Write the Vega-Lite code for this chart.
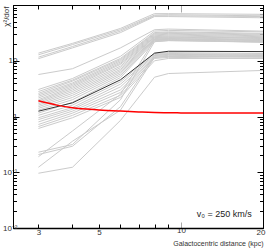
{
 "$schema": "https://vega.github.io/schema/vega-lite/v6.json",
 "width": 250, "height": 223,
 "autosize": {"type": "none"},
 "padding": {"left": 13, "top": 5, "right": 3, "bottom": 21},
 "background": "white",
 "config": {
  "view": {"stroke": "#000", "strokeWidth": 1},
  "font": "Liberation Sans",
  "axis": {"domainColor": "#000", "grid": false, "labelFont": "Liberation Sans Narrow, Liberation Sans", "labelFontSize": 8, "labelColor": "#333", "titleFont": "Liberation Sans Narrow, Liberation Sans", "titleFontWeight": "normal", "titleColor": "#333", "tickColor": "#000", "labelOverlap": false, "labelFlush": false}
 },
 "datasets": {
  "lines": [
   {"id":"a1","g":"gray","x":3,"y":13.7},{"id":"a1","g":"gray","x":4,"y":20.5},{"id":"a1","g":"gray","x":6,"y":38},{"id":"a1","g":"gray","x":8,"y":70},{"id":"a1","g":"gray","x":9,"y":70},{"id":"a1","g":"gray","x":20,"y":68},
   {"id":"a2","g":"gray","x":3,"y":12.8},{"id":"a2","g":"gray","x":4,"y":19.5},{"id":"a2","g":"gray","x":6,"y":36},{"id":"a2","g":"gray","x":8,"y":66},{"id":"a2","g":"gray","x":9,"y":67},{"id":"a2","g":"gray","x":20,"y":64},
   {"id":"a3","g":"gray","x":3,"y":11.6},{"id":"a3","g":"gray","x":4,"y":18},{"id":"a3","g":"gray","x":6,"y":34},{"id":"a3","g":"gray","x":8,"y":64},{"id":"a3","g":"gray","x":9,"y":64},{"id":"a3","g":"gray","x":20,"y":62},
   {"id":"a4","g":"gray","x":3,"y":10.9},{"id":"a4","g":"gray","x":4,"y":17},{"id":"a4","g":"gray","x":6,"y":32},{"id":"a4","g":"gray","x":8,"y":62},{"id":"a4","g":"gray","x":9,"y":62},{"id":"a4","g":"gray","x":20,"y":59},
   {"id":"b1","g":"gray","x":3,"y":5.66},{"id":"b1","g":"gray","x":4,"y":7.2},{"id":"b1","g":"gray","x":6,"y":17},{"id":"b1","g":"gray","x":8,"y":36},{"id":"b1","g":"gray","x":9,"y":37},{"id":"b1","g":"gray","x":20,"y":34},
   {"id":"c1","g":"gray","x":3,"y":3.05},{"id":"c1","g":"gray","x":4,"y":4.8},{"id":"c1","g":"gray","x":6,"y":12},{"id":"c1","g":"gray","x":8,"y":34},{"id":"c1","g":"gray","x":9,"y":35},{"id":"c1","g":"gray","x":20,"y":33},
   {"id":"c2","g":"gray","x":3,"y":2.8},{"id":"c2","g":"gray","x":4,"y":4.5},{"id":"c2","g":"gray","x":6,"y":11},{"id":"c2","g":"gray","x":8,"y":32},{"id":"c2","g":"gray","x":9,"y":33},{"id":"c2","g":"gray","x":20,"y":31},
   {"id":"c3","g":"gray","x":3,"y":2.6},{"id":"c3","g":"gray","x":4,"y":4.3},{"id":"c3","g":"gray","x":6,"y":10.5},{"id":"c3","g":"gray","x":8,"y":31},{"id":"c3","g":"gray","x":9,"y":32},{"id":"c3","g":"gray","x":20,"y":30},
   {"id":"c4","g":"gray","x":3,"y":2.45},{"id":"c4","g":"gray","x":4,"y":4.0},{"id":"c4","g":"gray","x":6,"y":10},{"id":"c4","g":"gray","x":8,"y":30},{"id":"c4","g":"gray","x":9,"y":31},{"id":"c4","g":"gray","x":20,"y":29},
   {"id":"c5","g":"gray","x":3,"y":2.3},{"id":"c5","g":"gray","x":4,"y":3.8},{"id":"c5","g":"gray","x":6,"y":9.5},{"id":"c5","g":"gray","x":8,"y":29},{"id":"c5","g":"gray","x":9,"y":30},{"id":"c5","g":"gray","x":20,"y":28},
   {"id":"c6","g":"gray","x":3,"y":2.15},{"id":"c6","g":"gray","x":4,"y":3.6},{"id":"c6","g":"gray","x":6,"y":9},{"id":"c6","g":"gray","x":8,"y":28},{"id":"c6","g":"gray","x":9,"y":29},{"id":"c6","g":"gray","x":20,"y":27},
   {"id":"c7","g":"gray","x":3,"y":2.0},{"id":"c7","g":"gray","x":4,"y":3.4},{"id":"c7","g":"gray","x":6,"y":8.6},{"id":"c7","g":"gray","x":8,"y":27},{"id":"c7","g":"gray","x":9,"y":28},{"id":"c7","g":"gray","x":20,"y":26},
   {"id":"c8","g":"gray","x":3,"y":1.9},{"id":"c8","g":"gray","x":4,"y":3.2},{"id":"c8","g":"gray","x":6,"y":8},{"id":"c8","g":"gray","x":8,"y":26.5},{"id":"c8","g":"gray","x":9,"y":27},{"id":"c8","g":"gray","x":20,"y":25.5},
   {"id":"c9","g":"gray","x":3,"y":1.8},{"id":"c9","g":"gray","x":4,"y":3.0},{"id":"c9","g":"gray","x":6,"y":7.5},{"id":"c9","g":"gray","x":8,"y":26},{"id":"c9","g":"gray","x":9,"y":26.5},{"id":"c9","g":"gray","x":20,"y":25},
   {"id":"c10","g":"gray","x":3,"y":1.7},{"id":"c10","g":"gray","x":4,"y":2.8},{"id":"c10","g":"gray","x":6,"y":7},{"id":"c10","g":"gray","x":8,"y":25},{"id":"c10","g":"gray","x":9,"y":26},{"id":"c10","g":"gray","x":20,"y":24},
   {"id":"c11","g":"gray","x":3,"y":1.6},{"id":"c11","g":"gray","x":4,"y":2.6},{"id":"c11","g":"gray","x":6,"y":6.6},{"id":"c11","g":"gray","x":8,"y":24.5},{"id":"c11","g":"gray","x":9,"y":25},{"id":"c11","g":"gray","x":20,"y":23.5},
   {"id":"c12","g":"gray","x":3,"y":1.5},{"id":"c12","g":"gray","x":4,"y":2.4},{"id":"c12","g":"gray","x":6,"y":6.2},{"id":"c12","g":"gray","x":8,"y":24},{"id":"c12","g":"gray","x":9,"y":24.5},{"id":"c12","g":"gray","x":20,"y":23},
   {"id":"c13","g":"gray","x":3,"y":1.4},{"id":"c13","g":"gray","x":4,"y":2.2},{"id":"c13","g":"gray","x":6,"y":5.8},{"id":"c13","g":"gray","x":8,"y":23.6},{"id":"c13","g":"gray","x":9,"y":24},{"id":"c13","g":"gray","x":20,"y":22},
   {"id":"c14","g":"gray","x":3,"y":1.3},{"id":"c14","g":"gray","x":4,"y":2.0},{"id":"c14","g":"gray","x":6,"y":5.4},{"id":"c14","g":"gray","x":8,"y":23},{"id":"c14","g":"gray","x":9,"y":23.5},{"id":"c14","g":"gray","x":20,"y":21.5},
   {"id":"c15","g":"gray","x":3,"y":1.15},{"id":"c15","g":"gray","x":4,"y":1.8},{"id":"c15","g":"gray","x":6,"y":5.0},{"id":"c15","g":"gray","x":8,"y":22},{"id":"c15","g":"gray","x":9,"y":23},{"id":"c15","g":"gray","x":20,"y":21.5},
   {"id":"c16","g":"gray","x":3,"y":1.05},{"id":"c16","g":"gray","x":4,"y":1.6},{"id":"c16","g":"gray","x":6,"y":4.2},{"id":"c16","g":"gray","x":8,"y":13.5},{"id":"c16","g":"gray","x":9,"y":14},{"id":"c16","g":"gray","x":20,"y":13.5},
   {"id":"c17","g":"gray","x":3,"y":0.95},{"id":"c17","g":"gray","x":4,"y":1.45},{"id":"c17","g":"gray","x":6,"y":3.8},{"id":"c17","g":"gray","x":8,"y":13},{"id":"c17","g":"gray","x":9,"y":13.5},{"id":"c17","g":"gray","x":20,"y":13},
   {"id":"c18","g":"gray","x":3,"y":0.88},{"id":"c18","g":"gray","x":4,"y":1.35},{"id":"c18","g":"gray","x":6,"y":3.4},{"id":"c18","g":"gray","x":8,"y":12.5},{"id":"c18","g":"gray","x":9,"y":13},{"id":"c18","g":"gray","x":20,"y":12.5},
   {"id":"c19","g":"gray","x":3,"y":0.8},{"id":"c19","g":"gray","x":4,"y":1.25},{"id":"c19","g":"gray","x":6,"y":3.0},{"id":"c19","g":"gray","x":8,"y":12},{"id":"c19","g":"gray","x":9,"y":12.5},{"id":"c19","g":"gray","x":20,"y":12},
   {"id":"c20","g":"gray","x":3,"y":0.72},{"id":"c20","g":"gray","x":4,"y":1.15},{"id":"c20","g":"gray","x":6,"y":2.7},{"id":"c20","g":"gray","x":8,"y":11.5},{"id":"c20","g":"gray","x":9,"y":12},{"id":"c20","g":"gray","x":20,"y":11.5},
   {"id":"c21","g":"gray","x":3,"y":0.66},{"id":"c21","g":"gray","x":4,"y":1.05},{"id":"c21","g":"gray","x":6,"y":2.4},{"id":"c21","g":"gray","x":8,"y":11},{"id":"c21","g":"gray","x":9,"y":11.5},{"id":"c21","g":"gray","x":20,"y":11},
   {"id":"c22","g":"gray","x":3,"y":0.61},{"id":"c22","g":"gray","x":4,"y":0.95},{"id":"c22","g":"gray","x":6,"y":2.2},{"id":"c22","g":"gray","x":8,"y":10},{"id":"c22","g":"gray","x":9,"y":11},{"id":"c22","g":"gray","x":20,"y":11},
   {"id":"d1","g":"gray","x":3,"y":0.229},{"id":"d1","g":"gray","x":4,"y":0.315},{"id":"d1","g":"gray","x":6,"y":2.0},{"id":"d1","g":"gray","x":8,"y":22},{"id":"d1","g":"gray","x":9,"y":23},{"id":"d1","g":"gray","x":20,"y":22},
   {"id":"d2","g":"gray","x":3,"y":0.208},{"id":"d2","g":"gray","x":4,"y":0.293},{"id":"d2","g":"gray","x":6,"y":1.5},{"id":"d2","g":"gray","x":8,"y":12.5},{"id":"d2","g":"gray","x":9,"y":13},{"id":"d2","g":"gray","x":20,"y":12.5},
   {"id":"d3","g":"gray","x":3,"y":0.19},{"id":"d3","g":"gray","x":4,"y":0.55},{"id":"d3","g":"gray","x":6,"y":2.5},{"id":"d3","g":"gray","x":8,"y":24},{"id":"d3","g":"gray","x":9,"y":25},{"id":"d3","g":"gray","x":20,"y":23},
   {"id":"d4","g":"gray","x":3,"y":0.123},{"id":"d4","g":"gray","x":4,"y":0.36},{"id":"d4","g":"gray","x":6,"y":1.3},{"id":"d4","g":"gray","x":8,"y":11.5},{"id":"d4","g":"gray","x":9,"y":12},{"id":"d4","g":"gray","x":20,"y":12},
   {"id":"l1","g":"gray","x":3,"y":0.096},{"id":"l1","g":"gray","x":4,"y":0.123},{"id":"l1","g":"gray","x":6,"y":0.85},{"id":"l1","g":"gray","x":8,"y":5.07},{"id":"l1","g":"gray","x":9,"y":5.9},{"id":"l1","g":"gray","x":20,"y":6.7},
   {"id":"k","g":"black","x":3,"y":1.245},{"id":"k","g":"black","x":4,"y":1.76},{"id":"k","g":"black","x":6,"y":4.55},{"id":"k","g":"black","x":8,"y":13.7},{"id":"k","g":"black","x":9,"y":14.8},{"id":"k","g":"black","x":20,"y":14.6}
  ],
  "red": [
   {"x":3,"y":1.91},{"x":3.5,"y":1.6},{"x":4,"y":1.43},{"x":5,"y":1.31},{"x":6,"y":1.25},{"x":7,"y":1.21},{"x":8,"y":1.18},{"x":10,"y":1.16},{"x":14,"y":1.15},{"x":20,"y":1.15}
  ],
  "note": [{"x": 18.2, "y": 0.018, "t": "v₀ = 250 km/s"}]
 },
 "layer": [
  {
   "data": {"name": "lines"},
   "transform": [{"filter": "datum.g == 'gray'"}],
   "mark": {"type": "line", "stroke": "#cbcbcb", "strokeWidth": 1, "clip": true},
   "encoding": {
    "x": {"field": "x", "type": "quantitative", "scale": {"type": "log", "domain": [2.42, 20], "nice": false},
     "axis": {"orient": "bottom", "values": [3,4,5,6,7,8,9,10,20],
      "labelExpr": "indexof([3,5,10,20], datum.value) >= 0 ? datum.label : ''",
      "labelAlign": {"condition": {"test": "datum.value == 20", "value": "right"}, "value": "center"},
      "labelOffset": {"condition": {"test": "datum.value == 20", "value": 2}, "value": 0},
      "tickSize": {"condition": {"test": "datum.value == 10", "value": -6}, "value": -4},
      "tickColor": {"condition": {"test": "datum.value == 10", "value": "#aaaaaa"}, "value": "#000000"},
      "labelPadding": 4, "domainWidth": 1.5,
      "title": "Galactocentric distance (kpc)", "titleFontSize": 7, "titleAnchor": "end", "titleY": 17, "titleBaseline": "alphabetic"}},
    "y": {"field": "y", "type": "quantitative", "scale": {"type": "log", "domain": [0.01, 100], "nice": false},
     "axis": {"orient": "left",
      "values": [0.01,0.02,0.03,0.04,0.05,0.06,0.07,0.08,0.09,0.1,0.2,0.3,0.4,0.5,0.6,0.7,0.8,0.9,1,2,3,4,5,6,7,8,9,10,20,30,40,50,60,70,80,90,100],
      "labelExpr": "datum.value == 0.01 ? '10⁻²' : datum.value == 0.1 ? '10⁻¹' : datum.value == 1 ? '1' : datum.value == 10 ? '10' : ''",
      "tickSize": {"condition": {"test": "indexof([0.01,0.1,1,10,100], datum.value) >= 0", "value": -6}, "value": -3.5},
      "labelPadding": 2,
      "title": "χ²/dof", "titleFontSize": 8, "titleAngle": -90, "titleX": -7, "titleY": 1, "titleAlign": "right", "titleBaseline": "middle"}},
    "detail": {"field": "id"}
   }
  },
  {
   "data": {"name": "lines"},
   "transform": [{"filter": "datum.g == 'black'"}],
   "mark": {"type": "line", "stroke": "#333333", "strokeWidth": 1, "clip": true},
   "encoding": {
    "x": {"field": "x", "type": "quantitative",
     "axis": {"orient": "top", "values": [3,4,5,6,7,8,9,10], "labels": false, "title": null,
      "tickSize": {"condition": {"test": "datum.value == 10", "value": -7}, "value": -4},
      "tickColor": {"condition": {"test": "datum.value == 10", "value": "#aaaaaa"}, "value": "#000000"}}},
    "y": {"field": "y", "type": "quantitative",
     "axis": {"orient": "right",
      "values": [0.01,0.02,0.03,0.04,0.05,0.06,0.07,0.08,0.09,0.1,0.2,0.3,0.4,0.5,0.6,0.7,0.8,0.9,1,2,3,4,5,6,7,8,9,10,20,30,40,50,60,70,80,90,100],
      "labels": false, "title": null,
      "tickSize": {"condition": {"test": "indexof([0.01,0.1,1,10,100], datum.value) >= 0", "value": -6}, "value": -3.5}}},
    "detail": {"field": "id"}
   }
  },
  {
   "data": {"name": "red"},
   "mark": {"type": "line", "stroke": "#ff0000", "strokeWidth": 1.5, "interpolate": "monotone", "clip": true},
   "encoding": {
    "x": {"field": "x", "type": "quantitative", "axis": null},
    "y": {"field": "y", "type": "quantitative", "axis": null}
   }
  },
  {
   "data": {"name": "note"},
   "mark": {"type": "text", "align": "right", "baseline": "middle", "fontSize": 9, "font": "Liberation Sans Narrow, Liberation Sans", "color": "#222"},
   "encoding": {
    "x": {"field": "x", "type": "quantitative", "axis": null},
    "y": {"field": "y", "type": "quantitative", "axis": null},
    "text": {"field": "t"}
   }
  }
 ],
 "resolve": {"axis": {"x": "independent", "y": "independent"}}
}
